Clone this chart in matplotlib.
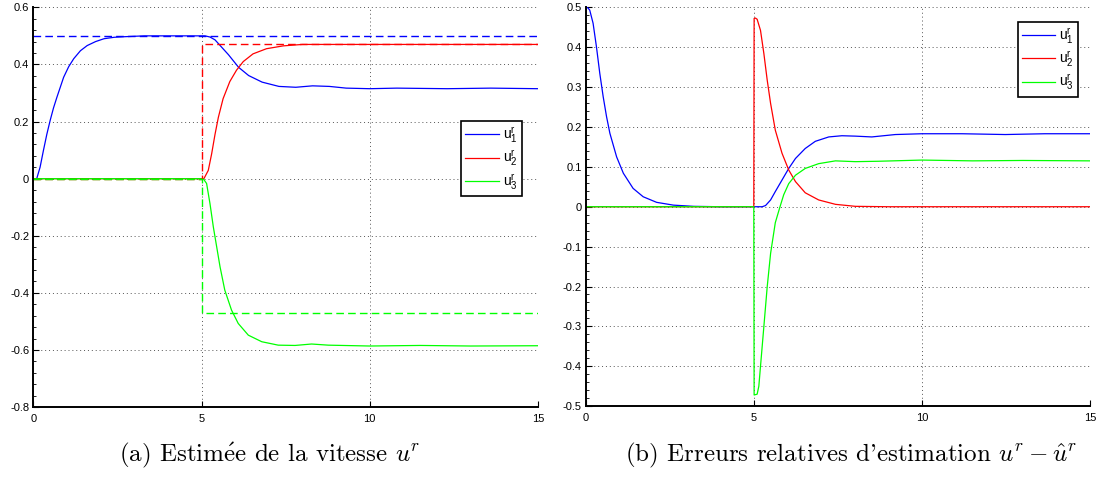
import matplotlib
matplotlib.use("Agg")
import matplotlib.pyplot as plt
from matplotlib.ticker import FuncFormatter, AutoMinorLocator

plt.rcParams['font.family'] = ['Liberation Sans', 'DejaVu Sans']
plt.rcParams['mathtext.fontset'] = 'cm'
plt.rcParams['axes.unicode_minus'] = False

# --- (a) estimated velocity u^r (solid) and reference (dashed)
t_u1 = [0, 0.1, 0.2, 0.3, 0.4, 0.5, 0.6, 0.7, 0.9, 1.05, 1.2, 1.4, 1.6, 1.85, 2.1, 2.4,
        2.7, 3.3, 5.1, 5.25, 5.4, 5.6, 5.8, 6.1, 6.4, 6.8, 7.3, 7.8, 8.3, 8.8, 9.3, 10,
        10.8, 12.3, 13.6, 15]
u1 = [0, 0, 0.04, 0.099, 0.155, 0.204, 0.248, 0.285, 0.355, 0.392, 0.42, 0.448, 0.466,
      0.48, 0.49, 0.495, 0.497, 0.5, 0.5, 0.496, 0.486, 0.46, 0.434, 0.39, 0.361, 0.338,
      0.323, 0.32, 0.325, 0.323, 0.317, 0.315, 0.317, 0.315, 0.317, 0.315]
t_u2 = [0, 5.07, 5.2, 5.3, 5.4, 5.5, 5.64, 5.84, 6.04, 6.24, 6.53, 6.93, 7.43, 8.0, 15]
u2 = [0, 0, 0.029, 0.087, 0.155, 0.215, 0.28, 0.34, 0.38, 0.41, 0.437, 0.455, 0.465, 0.47, 0.47]
t_u3 = [0, 5.05, 5.15, 5.25, 5.35, 5.45, 5.55, 5.69, 5.89, 6.09, 6.39, 6.79, 7.28, 7.78,
        8.27, 8.77, 10, 11.5, 13, 15]
u3 = [0, 0, -0.017, -0.087, -0.169, -0.239, -0.309, -0.39, -0.46, -0.507, -0.548, -0.571,
      -0.583, -0.584, -0.579, -0.583, -0.586, -0.584, -0.586, -0.585]

t_ref = [0, 5, 5, 15]
r1 = [0.5, 0.5, 0.5, 0.5]
r2 = [0, 0, 0.47, 0.47]
r3 = [0, 0, -0.47, -0.47]

# --- (b) relative errors u^r - u_hat^r
t_e1 = [0, 0.06, 0.12, 0.22, 0.32, 0.42, 0.52, 0.62, 0.72, 0.92, 1.12, 1.41, 1.71, 2.11,
        2.61, 3.21, 4, 5.25, 5.35, 5.5, 5.64, 5.84, 6.04, 6.24, 6.53, 6.83, 7.23, 7.62,
        8.02, 8.51, 9.21, 10, 11.19, 12.48, 13.66, 15]
e1 = [0.5, 0.499, 0.493, 0.46, 0.401, 0.334, 0.276, 0.226, 0.184, 0.125, 0.084, 0.046,
      0.025, 0.011, 0.004, 0.001, 0, 0, 0.003, 0.017, 0.038, 0.067, 0.096, 0.121, 0.146,
      0.164, 0.175, 0.178, 0.177, 0.175, 0.181, 0.183, 0.183, 0.181, 0.183, 0.183]
t_e2 = [0, 5, 5.01, 5.05, 5.1, 5.2, 5.3, 5.4, 5.5, 5.64, 5.84, 6.04, 6.24, 6.53, 6.93,
        7.43, 8.02, 9, 15]
e2 = [0, 0, 0.472, 0.473, 0.47, 0.442, 0.384, 0.317, 0.259, 0.192, 0.134, 0.092, 0.063,
      0.035, 0.017, 0.006, 0.001, 0, 0]
t_e3 = [0, 5, 5.01, 5.1, 5.15, 5.2, 5.3, 5.4, 5.5, 5.64, 5.78, 5.89, 6.04, 6.24, 6.53,
        6.93, 7.43, 8.02, 8.7, 10, 11.5, 13, 15]
e3 = [0, 0, -0.472, -0.47, -0.45, -0.40, -0.30, -0.20, -0.117, -0.04, 0, 0.03, 0.058,
      0.079, 0.096, 0.108, 0.115, 0.113, 0.114, 0.117, 0.115, 0.116, 0.115]

labels = [r'$\mathregular{u^r_1}$', r'$\mathregular{u^r_2}$', r'$\mathregular{u^r_3}$']
colors = ['#0000ff', '#ff0000', '#00ff00']

x_ticks = [0, 5, 10, 15]
y_ticks_a = [-0.8, -0.6, -0.4, -0.2, 0, 0.2, 0.4, 0.6]
y_ticks_b = [-0.5, -0.4, -0.3, -0.2, -0.1, 0, 0.1, 0.2, 0.3, 0.4, 0.5]

fig = plt.figure(figsize=(10.97, 4.87), dpi=100)
ax1 = fig.add_axes([0.0304, 0.164, 0.4600, 0.821])
ax2 = fig.add_axes([0.5339, 0.166, 0.4597, 0.819])


def style(ax, yticks):
    ax.set_xlim(0, 15)
    ax.set_ylim(yticks[0], yticks[-1])
    ax.set_xticks(x_ticks)
    ax.set_yticks(yticks)
    ax.xaxis.set_major_formatter(FuncFormatter(lambda v, p: '%g' % v))
    ax.yaxis.set_major_formatter(FuncFormatter(lambda v, p: '%g' % round(v, 2)))
    ax.yaxis.set_minor_locator(AutoMinorLocator(5))
    ax.tick_params(which='both', direction='in', labelsize=8, colors='black')
    ax.tick_params(axis='x', which='major', length=4, pad=5)
    ax.tick_params(axis='y', which='major', length=4, pad=3)
    ax.tick_params(axis='y', which='minor', length=2)
    ax.grid(True, which='major', linestyle=(0, (1, 3)), color='#555555', linewidth=0.7)
    for s in ['top', 'right']:
        ax.spines[s].set_visible(False)
    for s in ['left', 'bottom']:
        ax.spines[s].set_linewidth(1.4)


# left panel: estimates then dashed references
ax1.plot(t_u1, u1, color=colors[0], lw=0.9, label=labels[0])
ax1.plot(t_u2, u2, color=colors[1], lw=0.9, label=labels[1])
ax1.plot(t_u3, u3, color=colors[2], lw=0.9, label=labels[2])
for r, c in zip([r1, r2, r3], colors):
    ax1.plot(t_ref, r, color=c, lw=1.0, dashes=(5.5, 3))
style(ax1, y_ticks_a)

ax2.plot(t_e1, e1, color=colors[0], lw=0.9, label=labels[0])
ax2.plot(t_e2, e2, color=colors[1], lw=0.9, label=labels[1])
ax2.plot(t_e3, e3, color=colors[2], lw=0.9, label=labels[2])
style(ax2, y_ticks_b)

leg_kw = dict(loc='upper right', fontsize=10, handlelength=2.4, handletextpad=0.3,
              borderpad=0.3, labelspacing=0.25, borderaxespad=0, fancybox=False,
              framealpha=1, edgecolor='black')
handles = ax1.get_lines()[:3]
l1 = ax1.legend(handles, labels, bbox_to_anchor=(0.968, 0.7156), **leg_kw)
l2 = ax2.legend(bbox_to_anchor=(0.977, 0.964), **leg_kw)
for lg in (l1, l2):
    lg.get_frame().set_linewidth(1.2)

cap_font = ['cmr10', 'DejaVu Serif']
fig.text(0.246, 0.064, r'(a) Estim$\mathrm{\acute{e}}$e de la vitesse $u^r$',
         ha='center', va='center', fontsize=18, family=cap_font)
fig.text(0.776, 0.064, r"(b) Erreurs relatives d'estimation $u^r - \hat{u}^r$",
         ha='center', va='center', fontsize=18, family=cap_font)

fig.savefig('out.png', dpi=100)
